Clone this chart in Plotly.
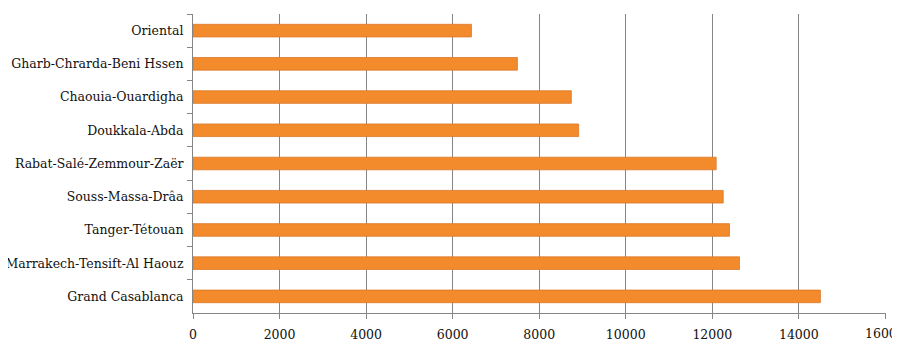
import plotly.graph_objects as go

regions = [
    "Oriental",
    "Gharb-Chrarda-Beni Hssen",
    "Chaouia-Ouardigha",
    "Doukkala-Abda",
    "Rabat-Salé-Zemmour-Zaër",
    "Souss-Massa-Drâa",
    "Tanger-Tétouan",
    "Marrakech-Tensift-Al Haouz",
    "Grand Casablanca",
]
values = [6435, 7497, 8743, 8912, 12090, 12253, 12398, 12629, 14499]
x_ticks = [0, 2000, 4000, 6000, 8000, 10000, 12000, 14000, 16000]

fig = go.Figure(
    go.Bar(
        x=values,
        y=regions,
        orientation="h",
        marker=dict(color="#F38B2C", line=dict(color="#D9782A", width=0.8)),
        width=0.38,
    )
)

axis_gray = "#868686"
fig.update_layout(
    width=892,
    height=349,
    margin=dict(l=185, r=14, t=6, b=44),
    paper_bgcolor="white",
    plot_bgcolor="white",
    showlegend=False,
    font=dict(family="DejaVu Serif", size=12.5, color="#111111"),
    xaxis=dict(
        range=[0, 16015],
        tickvals=x_ticks,
        ticktext=[str(v) if v < 16000 else "" for v in x_ticks],
        showgrid=True,
        gridcolor=axis_gray,
        gridwidth=1,
        showline=True,
        linecolor=axis_gray,
        linewidth=1,
        ticks="outside",
        ticklen=5,
        tickcolor=axis_gray,
        zeroline=False,
        automargin=False,
        ticklabelstandoff=5,
        tickfont=dict(size=12.5),
    ),
    yaxis=dict(
        autorange="reversed",
        showgrid=False,
        showline=True,
        linecolor=axis_gray,
        linewidth=1,
        ticks="outside",
        tickson="boundaries",
        ticklen=5,
        tickcolor=axis_gray,
        ticklabelstandoff=6,
        automargin=False,
    ),
)
fig.add_annotation(
    x=x_ticks[-1], y=0, xref="x", yref="paper", yanchor="top", yshift=-11,
    text=str(x_ticks[-1]), showarrow=False, xanchor="center",
    font=dict(size=12.5),
)

fig.write_html("out.html")
